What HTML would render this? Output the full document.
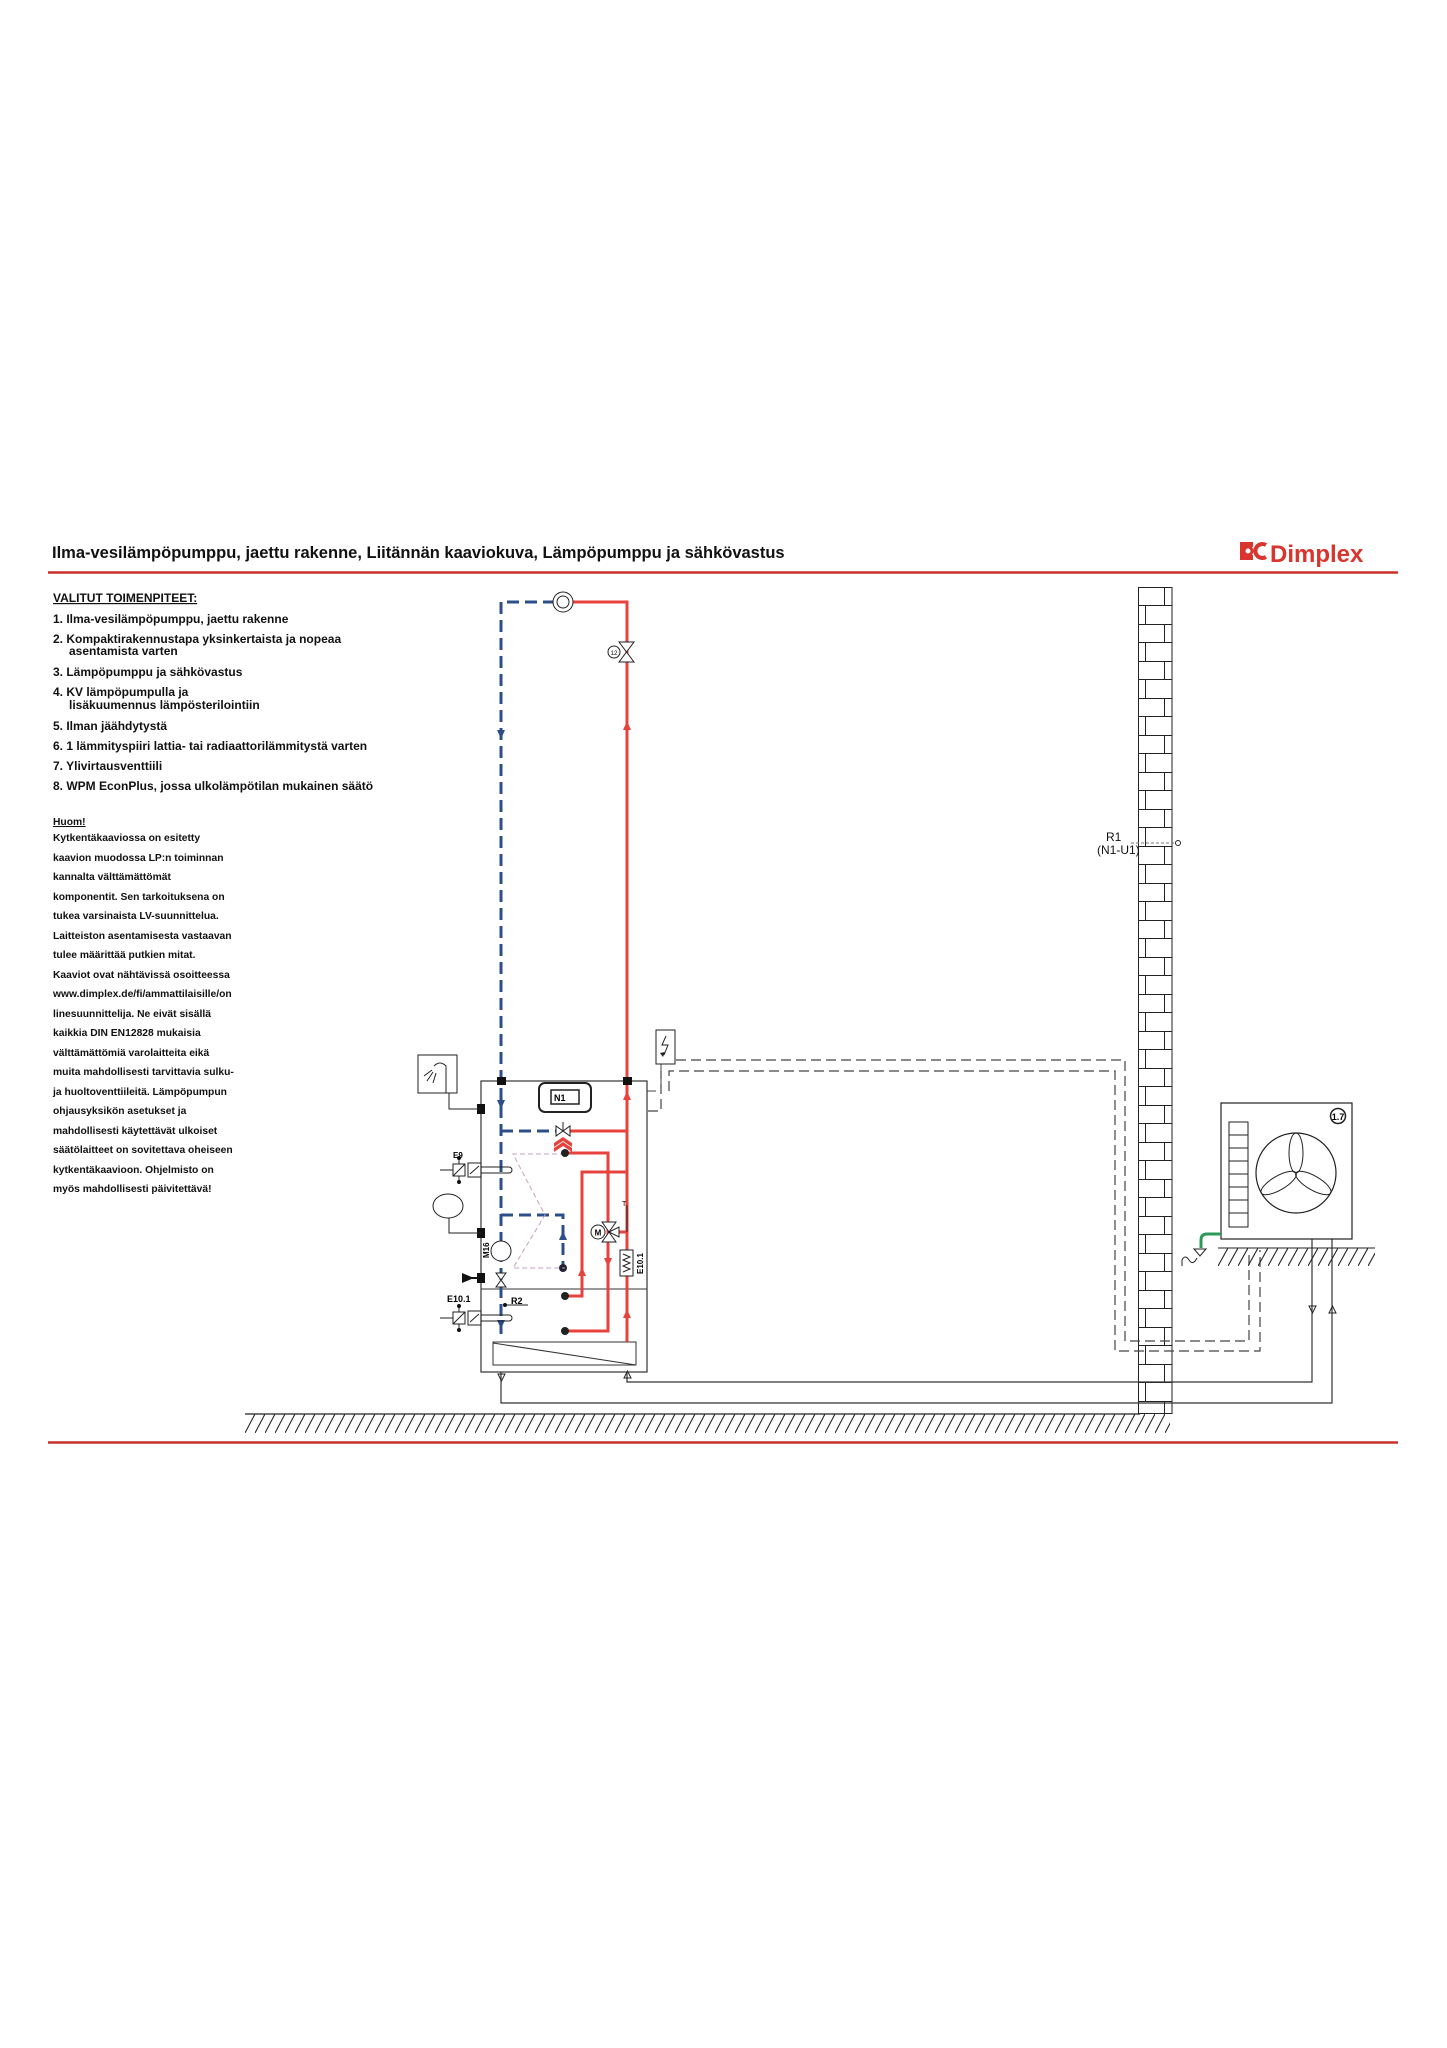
<!DOCTYPE html>
<html><head><meta charset="utf-8"><style>
html,body{margin:0;padding:0;background:#fff;}
svg{display:block;}
text{font-family:"Liberation Sans",Arial,sans-serif;}
</style></head><body>
<svg width="1447" height="2048" viewBox="0 0 1447 2048" xmlns="http://www.w3.org/2000/svg">
<defs>
<pattern id="hatch" x="245" y="1414" width="10" height="19" patternUnits="userSpaceOnUse">
<line x1="0" y1="19" x2="10" y2="0" stroke="#222" stroke-width="1.1"/>
</pattern>
<pattern id="hatch2" x="1218" y="1248" width="10" height="18" patternUnits="userSpaceOnUse">
<line x1="0" y1="18" x2="10" y2="0" stroke="#222" stroke-width="1.1"/>
</pattern>
<pattern id="brick" x="1138" y="587" width="34" height="37" patternUnits="userSpaceOnUse">
<rect x="0" y="0" width="34" height="37" fill="#fff"/>
<line x1="0" y1="0.5" x2="34" y2="0.5" stroke="#222" stroke-width="1"/>
<line x1="0" y1="18.5" x2="34" y2="18.5" stroke="#222" stroke-width="1"/>
<line x1="26.5" y1="0" x2="26.5" y2="18.5" stroke="#222" stroke-width="1"/>
<line x1="7.5" y1="18.5" x2="7.5" y2="37" stroke="#222" stroke-width="1"/>
</pattern>
</defs>

<!-- title -->
<text x="52" y="558" font-size="16.5" font-weight="bold" fill="#111">Ilma-vesilämpöpumppu, jaettu rakenne, Liitännän kaaviokuva, Lämpöpumppu ja sähkövastus</text>
<line x1="48" y1="572.5" x2="1398" y2="572.5" stroke="#c9302c" stroke-width="2.5"/>
<g fill="#d9342e">
<text x="1270" y="562" font-size="24" font-weight="bold" fill="#d9342e">Dimplex</text>
<path d="M1240 542 h13 v5 h-8 v8 h8 v5 h-13z"/>
<circle cx="1248" cy="551" r="4" fill="none" stroke="#d9342e" stroke-width="3"/>
<path d="M1266 545 a7 7 0 1 0 0 12" fill="none" stroke="#d9342e" stroke-width="4"/>
</g>

<!-- left text -->
<g font-size="12" font-weight="bold" fill="#111">
<text x="53" y="602" text-decoration="underline">VALITUT TOIMENPITEET:</text>
<text x="53" y="623">1. Ilma-vesilämpöpumppu, jaettu rakenne</text>
<text x="53" y="643">2. Kompaktirakennustapa yksinkertaista ja nopeaa</text>
<text x="69" y="655">asentamista varten</text>
<text x="53" y="676">3. Lämpöpumppu ja sähkövastus</text>
<text x="53" y="696">4. KV lämpöpumpulla ja</text>
<text x="69" y="709">lisäkuumennus lämpösterilointiin</text>
<text x="53" y="730">5. Ilman jäähdytystä</text>
<text x="53" y="750">6. 1 lämmityspiiri lattia- tai radiaattorilämmitystä varten</text>
<text x="53" y="770">7. Ylivirtausventtiili</text>
<text x="53" y="790">8. WPM EconPlus, jossa ulkolämpötilan mukainen säätö</text>
</g>
<g font-size="10.3" font-weight="bold" fill="#111">
<text x="53" y="825" text-decoration="underline">Huom!</text>
<text x="53" y="841">Kytkentäkaaviossa on esitetty</text>
<text x="53" y="861">kaavion muodossa LP:n toiminnan</text>
<text x="53" y="880">kannalta välttämättömät</text>
<text x="53" y="900">komponentit. Sen tarkoituksena on</text>
<text x="53" y="919">tukea varsinaista LV-suunnittelua.</text>
<text x="53" y="939">Laitteiston asentamisesta vastaavan</text>
<text x="53" y="958">tulee määrittää putkien mitat.</text>
<text x="53" y="978">Kaaviot ovat nähtävissä osoitteessa</text>
<text x="53" y="997">www.dimplex.de/fi/ammattilaisille/on</text>
<text x="53" y="1017">linesuunnittelija. Ne eivät sisällä</text>
<text x="53" y="1036">kaikkia DIN EN12828 mukaisia</text>
<text x="53" y="1056">välttämättömiä varolaitteita eikä</text>
<text x="53" y="1075">muita mahdollisesti tarvittavia sulku-</text>
<text x="53" y="1095">ja huoltoventtiileitä. Lämpöpumpun</text>
<text x="53" y="1114">ohjausyksikön asetukset ja</text>
<text x="53" y="1134">mahdollisesti käytettävät ulkoiset</text>
<text x="53" y="1153">säätölaitteet on sovitettava oheiseen</text>
<text x="53" y="1173">kytkentäkaavioon. Ohjelmisto on</text>
<text x="53" y="1192">myös mahdollisesti päivitettävä!</text>
</g>

<!-- ground -->
<line x1="245" y1="1414" x2="1140" y2="1414" stroke="#222" stroke-width="1.2"/>
<rect x="245" y="1414" width="925" height="19" fill="url(#hatch)"/>
<line x1="48" y1="1442.5" x2="1398" y2="1442.5" stroke="#c9302c" stroke-width="2.5"/>

<!-- wall -->
<rect x="1138.5" y="587.5" width="33.5" height="826" fill="url(#brick)" stroke="#222" stroke-width="1"/>
<text x="1106" y="841" font-size="12" fill="#111">R1</text>
<text x="1097" y="854" font-size="12" fill="#111">(N1-U1)</text>
<line x1="1131" y1="843" x2="1176" y2="843" stroke="#777" stroke-width="1" stroke-dasharray="3,2"/>
<circle cx="1178" cy="843" r="2.5" fill="none" stroke="#222"/>

<!-- dashed electrical -->
<g fill="none" stroke="#444" stroke-width="1.2" stroke-dasharray="10,5">
<polyline points="676,1060 1125,1060 1125,1341 1249,1341 1249,1250"/>
<polyline points="669,1091 669,1071 1115,1071 1115,1351 1260,1351 1260,1250"/>
<polyline points="648,1111 661,1111 661,1071"/>
</g>
<polyline points="656,1091 647,1091" fill="none" stroke="#444"/>
<line x1="661" y1="1064" x2="661" y2="1091" stroke="#444" stroke-width="1"/>
<rect x="656" y="1030" width="19" height="34" fill="#fff" stroke="#222"/>
<path d="M666 1036 l-4 9 h6 l-4 10" fill="none" stroke="#222" stroke-width="1"/>
<path d="M660 1053 l3 4 l2 -5z" fill="#222"/>

<!-- bottom pipes to outdoor -->
<g fill="none" stroke="#333" stroke-width="1.2">
<polyline points="627,1372 627,1382 1312,1382 1312,1239"/>
<polyline points="501,1372 501,1403 1332,1403 1332,1239"/>
</g>
<path d="M1309 1306 h7 l-3.5 7z" fill="none" stroke="#222"/>
<path d="M1329 1313 h7 l-3.5 -7z" fill="none" stroke="#222"/>
<path d="M498 1374 h7 l-3.5 7z" fill="none" stroke="#222"/>
<path d="M624 1378 h7 l-3.5 -7z" fill="none" stroke="#222"/>

<!-- outdoor unit -->
<rect x="1221" y="1103" width="131" height="136" fill="#fff" stroke="#222" stroke-width="1.2"/>
<rect x="1229" y="1122" width="19" height="105" fill="none" stroke="#222"/>
<g stroke="#222"><line x1="1229" y1="1135" x2="1248" y2="1135"/><line x1="1229" y1="1148" x2="1248" y2="1148"/><line x1="1229" y1="1161" x2="1248" y2="1161"/><line x1="1229" y1="1174" x2="1248" y2="1174"/><line x1="1229" y1="1187" x2="1248" y2="1187"/><line x1="1229" y1="1200" x2="1248" y2="1200"/><line x1="1229" y1="1213" x2="1248" y2="1213"/></g>
<circle cx="1296" cy="1173" r="40" fill="none" stroke="#222" stroke-width="1.2"/>
<g fill="none" stroke="#222">
<ellipse cx="1296" cy="1153" rx="7" ry="20"/>
<ellipse cx="1296" cy="1153" rx="7" ry="20" transform="rotate(120 1296 1173)"/>
<ellipse cx="1296" cy="1153" rx="7" ry="20" transform="rotate(240 1296 1173)"/>
</g>
<circle cx="1338" cy="1116" r="7.5" fill="none" stroke="#222" stroke-width="1.5"/>
<text x="1338" y="1120" font-size="9" font-weight="bold" text-anchor="middle">1.7</text>
<line x1="1218" y1="1248" x2="1375" y2="1248" stroke="#222"/>
<rect x="1218" y="1248" width="157" height="18" fill="url(#hatch2)"/>
<path d="M1221 1234 h-14 q-6 0 -6 6 v8" fill="none" stroke="#2a9a5a" stroke-width="3"/>
<path d="M1194 1249 h12 l-6 7z" fill="none" stroke="#222"/>
<path d="M1182 1266 v-6 q3 -6 7 0 q4 6 8 -2" fill="none" stroke="#222"/>

<!-- indoor unit box -->
<rect x="481" y="1081" width="166" height="291" fill="none" stroke="#333" stroke-width="1.2"/>
<line x1="481" y1="1289" x2="647" y2="1289" stroke="#333"/>
<rect x="493" y="1342" width="143" height="23" fill="none" stroke="#333"/>
<line x1="493" y1="1343" x2="636" y2="1365" stroke="#333"/>
<rect x="539" y="1083" width="52" height="29" rx="6" fill="none" stroke="#222" stroke-width="2"/>
<rect x="551" y="1090" width="28" height="14" fill="none" stroke="#222" stroke-width="1.5"/>
<text x="554" y="1101" font-size="9" font-weight="bold">N1</text>

<!-- blue pipes -->
<g fill="none" stroke="#2c4f8a" stroke-width="3" stroke-dasharray="12,6">
<polyline points="555,602 501,602 501,1340"/>
<polyline points="501,1131 557,1131"/>
<polyline points="501,1215 563,1215 563,1268"/>
</g>
<path d="M497 730 h8 l-4 9z M497 1320 h8 l-4 9z M497 1100 h8 l-4 9z" fill="#2c4f8a"/>
<path d="M559 1240 h8 l-4 -9z" fill="#2c4f8a"/>
<circle cx="563" cy="1268" r="4" fill="#223"/>
<!-- pink HX -->
<polyline points="565,1154 513,1154 545,1215 513,1268 565,1268" fill="none" stroke="#c9a0c0" stroke-width="1" stroke-dasharray="5,3"/>

<!-- red pipes -->
<g fill="none" stroke="#e8423c" stroke-width="3">
<polyline points="572,602 627,602 627,1342"/>
<polyline points="570,1131 627,1131"/>
<polyline points="565,1153 608,1153 608,1331 565,1331"/>
<polyline points="627,1172 582,1172 582,1296 565,1296"/>
<polyline points="609,1232 627,1232"/>
</g>
<path d="M623 730 h8 l-4 -9z M623 1100 h8 l-4 -9z M623 1318 h8 l-4 -9z M578 1276 h8 l-4 -9z" fill="#e8423c"/>
<path d="M604 1258 h8 l-4 9z" fill="#e8423c"/>
<path d="M554 1148 l9 -6 l9 6 v4 l-9 -6 l-9 6z M554 1143 l9 -6 l9 6 v4 l-9 -6 l-9 6z" fill="#e8423c"/>
<circle cx="565" cy="1153" r="4" fill="#222"/><circle cx="565" cy="1296" r="4" fill="#222"/><circle cx="565" cy="1331" r="4" fill="#222"/>

<!-- top circle & valve -->
<circle cx="563" cy="602" r="10" fill="#fff" stroke="#222"/>
<circle cx="563" cy="602" r="6" fill="none" stroke="#222"/>
<path d="M619 642 h15 l-15 20 h15z" fill="#fff" stroke="#222"/>
<circle cx="614" cy="652" r="6" fill="#fff" stroke="#222"/>
<text x="614" y="655" font-size="6" text-anchor="middle">12</text>

<!-- 3-way valve top -->
<path d="M556 1126 v10 l14 -10 v10z" fill="#fff" stroke="#222"/>
<line x1="563" y1="1131" x2="563" y2="1122" stroke="#222"/>
<!-- mixer -->
<path d="M602 1222 h14 l-14 20 h14z" fill="#fff" stroke="#222"/>
<path d="M609 1232 l10 -5 v10z" fill="#fff" stroke="#222"/>
<circle cx="598" cy="1232" r="7" fill="#fff" stroke="#222"/>
<text x="598" y="1235.5" font-size="8" font-weight="bold" text-anchor="middle">M</text>
<line x1="627" y1="1232" x2="627" y2="1205" stroke="#222"/>
<text x="622" y="1206" font-size="7">T</text>
<rect x="620" y="1250" width="13" height="26" fill="#fff" stroke="#222"/>
<path d="M623 1254 l7 3 l-7 3 l7 3 l-7 3 l7 3 l-7 3" fill="none" stroke="#222"/>
<text x="643" y="1274" font-size="8" font-weight="bold" transform="rotate(-90 643 1274)">E10.1</text>

<!-- left components -->
<rect x="497" y="1077" width="9" height="8" fill="#111"/><rect x="623" y="1077" width="9" height="8" fill="#111"/>
<rect x="477" y="1104" width="8" height="10" fill="#111"/><rect x="477" y="1228" width="8" height="10" fill="#111"/><rect x="477" y="1273" width="8" height="10" fill="#111"/>
<rect x="418" y="1055" width="39" height="38" fill="#fff" stroke="#222"/>
<path d="M432 1070 l-8 6 M433 1072 l-6 9 M436 1073 l-3 10 M434 1066 q6 -6 12 0 v27" fill="none" stroke="#222"/>
<polyline points="449,1093 449,1109 481,1109" fill="none" stroke="#222"/>
<ellipse cx="448" cy="1206" rx="15" ry="12" fill="#fff" stroke="#222"/>
<polyline points="449,1218 449,1233 481,1233" fill="none" stroke="#222"/>
<path d="M462 1273 v10 l12 -5z" fill="#111"/>
<line x1="462" y1="1278" x2="477" y2="1278" stroke="#111" stroke-width="2"/>
<!-- M16 pump -->
<circle cx="501" cy="1251" r="10" fill="#fff" stroke="#222"/>
<text x="489" y="1258" font-size="8" font-weight="bold" transform="rotate(-90 489 1258)">M16</text>
<path d="M496 1273 h10 l-10 14 h10z" fill="#fff" stroke="#222"/>
<!-- sensors -->
<g fill="none" stroke="#222">
<line x1="440" y1="1170" x2="453" y2="1170"/><rect x="453" y="1164" width="12" height="12"/><line x1="453" y1="1176" x2="465" y2="1164"/>
<line x1="459" y1="1158" x2="459" y2="1164"/><line x1="459" y1="1176" x2="459" y2="1182"/>
<rect x="468" y="1163" width="13" height="14"/><line x1="470" y1="1174" x2="479" y2="1166"/>
<path d="M481 1167 h28 a3 3 0 0 1 0 6 h-28"/>
<line x1="440" y1="1318" x2="453" y2="1318"/><rect x="453" y="1312" width="12" height="12"/><line x1="453" y1="1324" x2="465" y2="1312"/>
<line x1="459" y1="1306" x2="459" y2="1312"/><line x1="459" y1="1324" x2="459" y2="1330"/>
<rect x="468" y="1311" width="13" height="14"/><line x1="470" y1="1322" x2="479" y2="1314"/>
<path d="M481 1315 h28 a3 3 0 0 1 0 6 h-28"/>
<line x1="505" y1="1305" x2="528" y2="1305"/>
</g>
<g fill="#111"><circle cx="459" cy="1158" r="2"/><circle cx="459" cy="1182" r="2"/><circle cx="459" cy="1306" r="2"/><circle cx="459" cy="1330" r="2"/><circle cx="505" cy="1305" r="2"/></g>
<text x="453" y="1158" font-size="8" font-weight="bold">E9</text>
<text x="447" y="1302" font-size="9" font-weight="bold">E10.1</text>
<text x="511" y="1304" font-size="9" font-weight="bold">R2</text>
</svg>
</body></html>
